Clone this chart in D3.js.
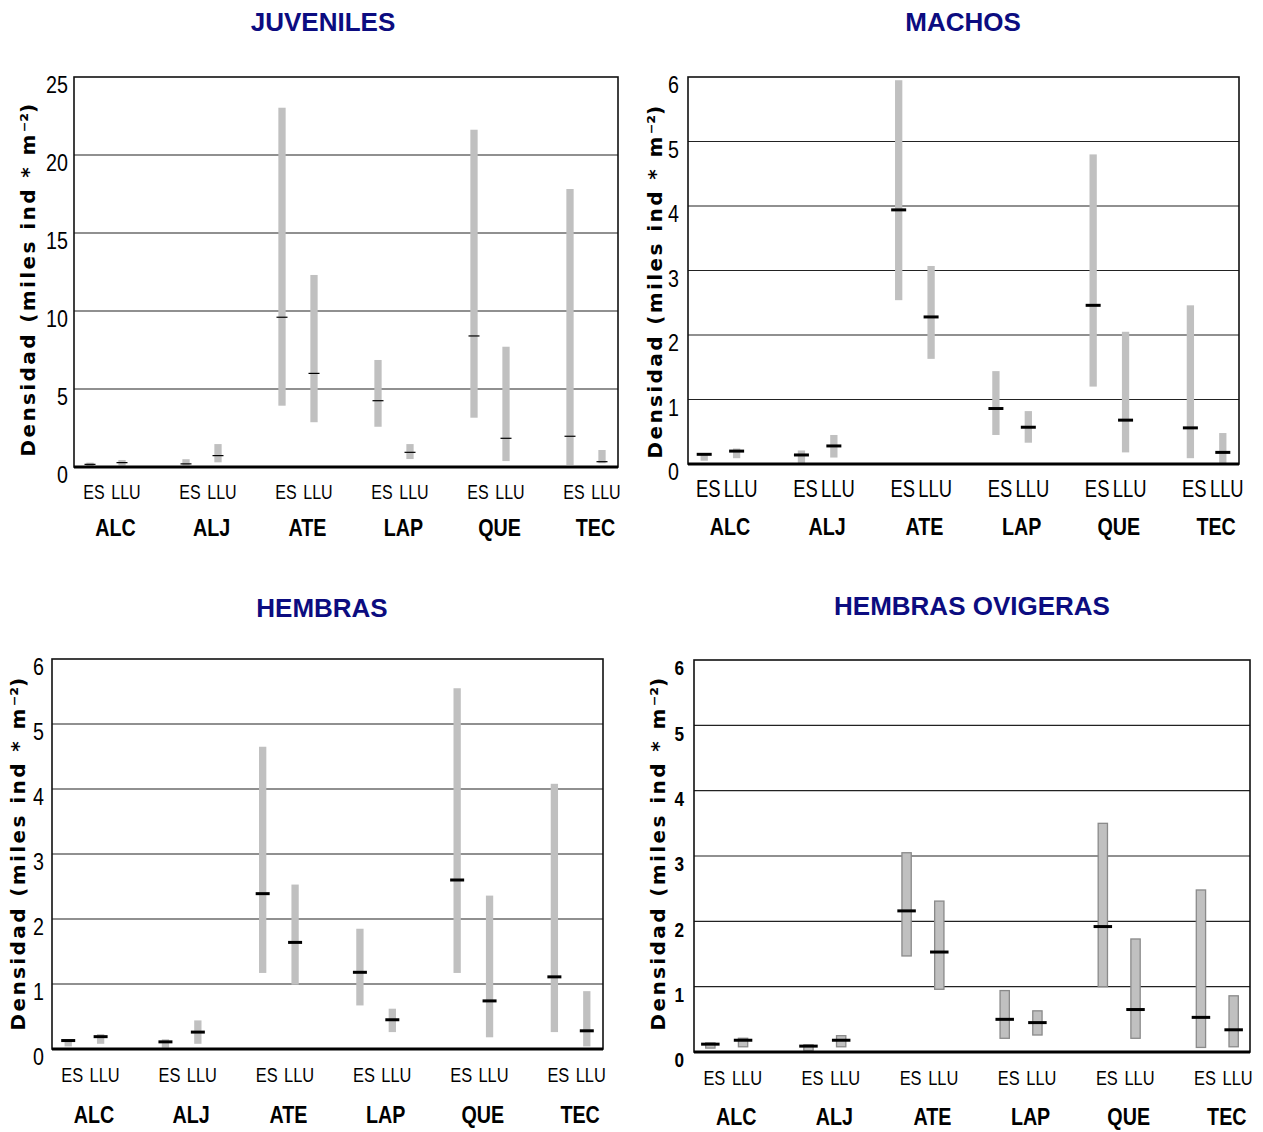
<!DOCTYPE html>
<html>
<head>
<meta charset="utf-8">
<script src="https://cdn.jsdelivr.net/npm/d3@7"></script>
<style>
  body { margin: 0; background: #fff; }
  svg { display: block; }
</style>
</head>
<body>
<script>
// Sampling sites and seasons (ES = estiaje, LLU = lluvias)
const sites = ["ALC", "ALJ", "ATE", "LAP", "QUE", "TEC"];
const seasons = ["ES", "LLU"];
const titles = ["JUVENILES", "MACHOS", "HEMBRAS", "HEMBRAS OVIGERAS"];
const yTitleMain = "Densidad (miles ind * m";
const yTitleSup = "\u207B\u00B2";
const yTitleEnd = ")";
const juvTicks = [0, 5, 10, 15, 20, 25];
const adultTicks = [0, 1, 2, 3, 4, 5, 6];

// Range (low/high) and median per site and season,
// order: ALC-ES, ALC-LLU, ALJ-ES, ALJ-LLU, ATE-ES, ATE-LLU, LAP-ES, LAP-LLU, QUE-ES, QUE-LLU, TEC-ES, TEC-LLU
const juvLow  = [0.06, 0.10, 0.10, 0.30, 3.93, 2.87, 2.58, 0.51, 3.16, 0.38, 0.13, 0.24];
const juvHigh = [0.28, 0.45, 0.50, 1.47, 23.03, 12.31, 6.86, 1.47, 21.62, 7.71, 17.82, 1.09];
const juvMed  = [0.17, 0.28, 0.20, 0.73, 9.60, 6.00, 4.25, 0.94, 8.40, 1.84, 1.97, 0.34];

const machLow  = [0.05, 0.09, 0.01, 0.10, 2.54, 1.63, 0.45, 0.33, 1.20, 0.18, 0.09, 0.01];
const machHigh = [0.16, 0.24, 0.21, 0.45, 5.95, 3.07, 1.44, 0.82, 4.80, 2.05, 2.46, 0.48];
const machMed  = [0.15, 0.20, 0.14, 0.28, 3.94, 2.28, 0.86, 0.57, 2.46, 0.68, 0.56, 0.18];

const hembLow  = [0.04, 0.08, 0.02, 0.08, 1.17, 0.99, 0.67, 0.26, 1.17, 0.18, 0.26, 0.04];
const hembHigh = [0.14, 0.23, 0.15, 0.44, 4.65, 2.53, 1.85, 0.62, 5.55, 2.36, 4.08, 0.89];
const hembMed  = [0.13, 0.19, 0.11, 0.26, 2.39, 1.64, 1.18, 0.45, 2.60, 0.74, 1.11, 0.28];

const oviLow  = [0.06, 0.08, 0.02, 0.08, 1.47, 0.96, 0.21, 0.26, 1.00, 0.21, 0.07, 0.08];
const oviHigh = [0.14, 0.21, 0.11, 0.25, 3.05, 2.31, 0.94, 0.63, 3.50, 1.73, 2.48, 0.86];
const oviMed  = [0.12, 0.18, 0.09, 0.18, 2.16, 1.53, 0.50, 0.45, 1.92, 0.65, 0.53, 0.34];

const SANS = "'Liberation Sans', Arial, Helvetica, sans-serif";
const WIDE = "'DejaVu Sans', Verdana, sans-serif";

// squeeze text horizontally to imitate a condensed face
function condense(sel, factor) {
  sel.each(function () {
    const w = this.getComputedTextLength();
    d3.select(this)
      .attr("textLength", (w * factor).toFixed(2))
      .attr("lengthAdjust", "spacingAndGlyphs");
  });
}

// Panel layout and styling
const panels = [
  { title: titles[0], low: juvLow, high: juvHigh, med: juvMed, ticks: juvTicks,
    box: [74, 77, 618, 467], titleX: 323, titleY: 31, yTitleX: 28, yTitleY: 279,
    tickFont: `400 24px ${SANS}`, tickPad: 6,
    seasonFont: `400 20px ${SANS}`, seasonY: 492,
    catY: 528, barW: 7.3, medW: 11, medT: 1.2, barStroke: null },
  { title: titles[1], low: machLow, high: machHigh, med: machMed, ticks: adultTicks,
    box: [688, 77, 1239, 464], titleX: 963, titleY: 31, yTitleX: 655, yTitleY: 281,
    tickFont: `400 24px ${SANS}`, tickPad: 9,
    seasonFont: `400 23px ${SANS}`, seasonY: 489,
    catY: 527, barW: 7.3, medW: 15, medT: 3, barStroke: null },
  { title: titles[2], low: hembLow, high: hembHigh, med: hembMed, ticks: adultTicks,
    box: [52, 659, 603, 1049], titleX: 322, titleY: 617, yTitleX: 18, yTitleY: 853,
    tickFont: `400 24px ${SANS}`, tickPad: 8,
    seasonFont: `400 20.5px ${SANS}`, seasonY: 1074,
    catY: 1115, barW: 7.3, medW: 14, medT: 3, barStroke: null },
  { title: titles[3], low: oviLow, high: oviHigh, med: oviMed, ticks: adultTicks,
    box: [694, 660, 1250, 1052], titleX: 972, titleY: 615, yTitleX: 658, yTitleY: 853,
    tickFont: `700 21px ${SANS}`, tickPad: 10,
    seasonFont: `400 20.5px ${SANS}`, seasonY: 1077,
    catY: 1117, barW: 9.3, medW: 18.5, medT: 3, barStroke: "#8a8a8a" }
];

const svg = d3.select("body").append("svg")
  .attr("width", 1263).attr("height", 1132);

panels.forEach(p => {
  const [l, t, r, b] = p.box;
  const g = svg.append("g");

  const y = d3.scaleLinear()
    .domain([0, d3.max(p.ticks)])
    .range([b, t]);
  const gx = d3.scalePoint().domain(sites).range([l, r]).padding(1 / 3);
  const half = gx.step() / 6;
  const sx = d3.scalePoint().domain(seasons).range([-half, half]);

  // horizontal gridlines
  g.append("g").selectAll("line")
    .data(p.ticks.slice(1, -1))
    .join("line")
    .attr("x1", l).attr("x2", r)
    .attr("y1", d => y(d)).attr("y2", d => y(d))
    .attr("stroke", "#222").attr("stroke-width", 1.1);

  // rows of range bars and median marks
  const rows = [];
  sites.forEach((s, i) => seasons.forEach((se, j) => {
    const k = i * 2 + j;
    rows.push({ site: s, season: se, lo: p.low[k], hi: p.high[k], med: p.med[k] });
  }));

  g.append("g").selectAll("rect")
    .data(rows)
    .join("rect")
    .attr("x", d => gx(d.site) + sx(d.season) - p.barW / 2)
    .attr("y", d => y(d.hi))
    .attr("width", p.barW)
    .attr("height", d => y(d.lo) - y(d.hi))
    .attr("fill", "#c0c0c0")
    .attr("stroke", p.barStroke || "none")
    .attr("stroke-width", p.barStroke ? 1.3 : 0);

  g.append("g").selectAll("line")
    .data(rows)
    .join("line")
    .attr("x1", d => gx(d.site) + sx(d.season) - p.medW / 2)
    .attr("x2", d => gx(d.site) + sx(d.season) + p.medW / 2)
    .attr("y1", d => y(d.med)).attr("y2", d => y(d.med))
    .attr("stroke", "#000").attr("stroke-width", p.medT);

  // frame and baseline
  g.append("rect")
    .attr("x", l).attr("y", t).attr("width", r - l).attr("height", b - t)
    .attr("fill", "none").attr("stroke", "#111").attr("stroke-width", 1.6);
  g.append("line")
    .attr("x1", l).attr("x2", r).attr("y1", b).attr("y2", b)
    .attr("stroke", "#000").attr("stroke-width", 3);

  // y axis labels
  const ax = g.append("g")
    .attr("transform", `translate(${l},0)`)
    .call(d3.axisLeft(y).tickValues(p.ticks).tickSize(0).tickPadding(p.tickPad).tickFormat(d3.format("d")));
  ax.select(".domain").remove();
  ax.selectAll("text")
    .attr("dy", "0.32em")
    .attr("y", 8)
    .style("font", p.tickFont)
    .attr("fill", "#000")
    .call(condense, 0.82);

  // season labels under each bar
  g.append("g").selectAll("text")
    .data(rows)
    .join("text")
    .attr("x", d => gx(d.site) + sx(d.season) + 4)
    .attr("y", p.seasonY)
    .attr("text-anchor", "middle")
    .attr("dominant-baseline", "central")
    .style("font", p.seasonFont)
    .attr("fill", "#000")
    .text(d => d.season)
    .call(condense, 0.8);

  // site labels
  const cx = g.append("g")
    .attr("transform", `translate(9,${p.catY})`)
    .call(d3.axisBottom(gx).tickSize(0).tickPadding(0));
  cx.select(".domain").remove();
  cx.selectAll("text")
    .attr("y", 0).attr("dy", "0.35em")
    .style("font", `700 24px ${SANS}`)
    .attr("fill", "#000")
    .call(condense, 0.82);

  // panel title
  g.append("text")
    .attr("x", p.titleX).attr("y", p.titleY)
    .attr("text-anchor", "middle")
    .style("font", `700 26px ${SANS}`)
    .attr("fill", "#0c0c80")
    .text(p.title);

  // y axis title
  const yt = g.append("text")
    .attr("transform", `translate(${p.yTitleX},${p.yTitleY}) rotate(-90)`)
    .attr("text-anchor", "middle")
    .attr("dominant-baseline", "central")
    .style("font", `700 20px ${WIDE}`)
    .style("letter-spacing", "2.4px")
    .attr("fill", "#000");
  yt.append("tspan").text(yTitleMain);
  yt.append("tspan").style("letter-spacing", "0px").text(yTitleSup);
  yt.append("tspan").text(yTitleEnd);
});
</script>
</body>
</html>
